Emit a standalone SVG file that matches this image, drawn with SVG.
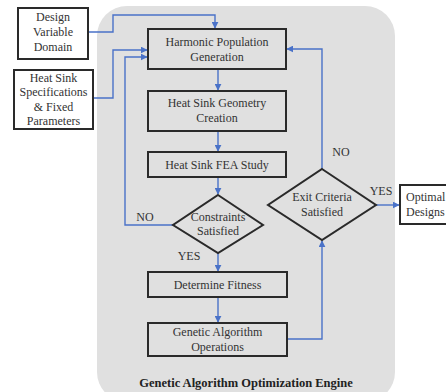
<svg xmlns="http://www.w3.org/2000/svg" width="446" height="392" viewBox="0 0 446 392">
<defs>
<style>
.t{font-family:'Liberation Serif','DejaVu Serif',serif;font-size:12px;fill:#333;text-anchor:middle;dominant-baseline:central}
.b{fill:none;stroke:#2a2a2a;stroke-width:2}
.w{fill:#fff;stroke:#2a2a2a;stroke-width:2}
.c{fill:none;stroke:#4a72c8;stroke-width:1.4}
</style>
<marker id="a" viewBox="0 0 10 10" refX="9" refY="5" markerWidth="7" markerHeight="7" markerUnits="userSpaceOnUse" orient="auto">
<path d="M0,0 L10,5 L0,10 z" fill="#4a72c8"/>
</marker>
</defs>
<rect x="0" y="0" width="446" height="392" fill="#fff"/>
<g id="engine">
<rect x="97" y="6" width="298" height="396" rx="30" fill="#e0e0e0"/>
<text class="t" x="246" y="383" style="font-weight:bold;font-size:12.5px;fill:#222">Genetic Algorithm Optimization Engine</text>
</g>
<g id="connectors">
<path class="c" d="M88,32 H113 V15 H215 V28" marker-end="url(#a)"/>
<path class="c" d="M93,98 H113 V50 H147" marker-end="url(#a)"/>
<path class="c" d="M173,225 H125 V57 H147" marker-end="url(#a)"/>
<path class="c" d="M322,169 V49 H287" marker-end="url(#a)"/>
<path class="c" d="M287,339 H322 V241" marker-end="url(#a)"/>
<path class="c" d="M376,205 H399" marker-end="url(#a)"/>
<path class="c" d="M218,69 V90" marker-end="url(#a)"/>
<path class="c" d="M218,131 V151" marker-end="url(#a)"/>
<path class="c" d="M218,177 V194" marker-end="url(#a)"/>
<path class="c" d="M218,253 V271" marker-end="url(#a)"/>
<path class="c" d="M218,297 V322" marker-end="url(#a)"/>
<text class="t" x="145" y="217">NO</text>
<text class="t" x="189" y="256">YES</text>
<text class="t" x="341" y="152">NO</text>
<text class="t" x="381" y="191">YES</text>
</g>
<g id="design-domain">
<rect class="w" x="18" y="8" width="70" height="51"/>
<text class="t" x="53" y="17">Design</text>
<text class="t" x="53" y="32">Variable</text>
<text class="t" x="53" y="47">Domain</text>
</g>
<g id="specs">
<rect class="w" x="14" y="70" width="79" height="59"/>
<text class="t" x="53.5" y="78">Heat Sink</text>
<text class="t" x="53.5" y="92">Specifications</text>
<text class="t" x="53.5" y="107">&amp; Fixed</text>
<text class="t" x="53.5" y="121">Parameters</text>
</g>
<g id="harmonic">
<rect class="b" x="148" y="29" width="138" height="40"/>
<text class="t" x="217" y="42">Harmonic Population</text>
<text class="t" x="217" y="57">Generation</text>
</g>
<g id="geometry">
<rect class="b" x="148" y="91" width="138" height="40"/>
<text class="t" x="217" y="103">Heat Sink Geometry</text>
<text class="t" x="217" y="118">Creation</text>
</g>
<g id="fea">
<rect class="b" x="148" y="152" width="138" height="25"/>
<text class="t" x="217" y="164.5">Heat Sink FEA Study</text>
</g>
<g id="constraints">
<path class="b" d="M218,195 L263,225 L218,253 L173,225 Z"/>
<text class="t" x="218" y="217">Constraints</text>
<text class="t" x="218" y="231">Satisfied</text>
</g>
<g id="exit">
<path class="b" d="M322,169 L376,205 L322,240 L268,205 Z"/>
<text class="t" x="322" y="197">Exit Criteria</text>
<text class="t" x="322" y="212">Satisfied</text>
</g>
<g id="optimal">
<rect class="w" x="400" y="185" width="56" height="39"/>
<text class="t" x="406" y="197" style="text-anchor:start">Optimal</text>
<text class="t" x="406" y="212" style="text-anchor:start">Designs</text>
</g>
<g id="fitness">
<rect class="b" x="148" y="272" width="139" height="25"/>
<text class="t" x="217.5" y="284.5">Determine Fitness</text>
</g>
<g id="ga-ops">
<rect class="b" x="148" y="323" width="139" height="33"/>
<text class="t" x="217.5" y="332">Genetic Algorithm</text>
<text class="t" x="217.5" y="347">Operations</text>
</g>
</svg>
